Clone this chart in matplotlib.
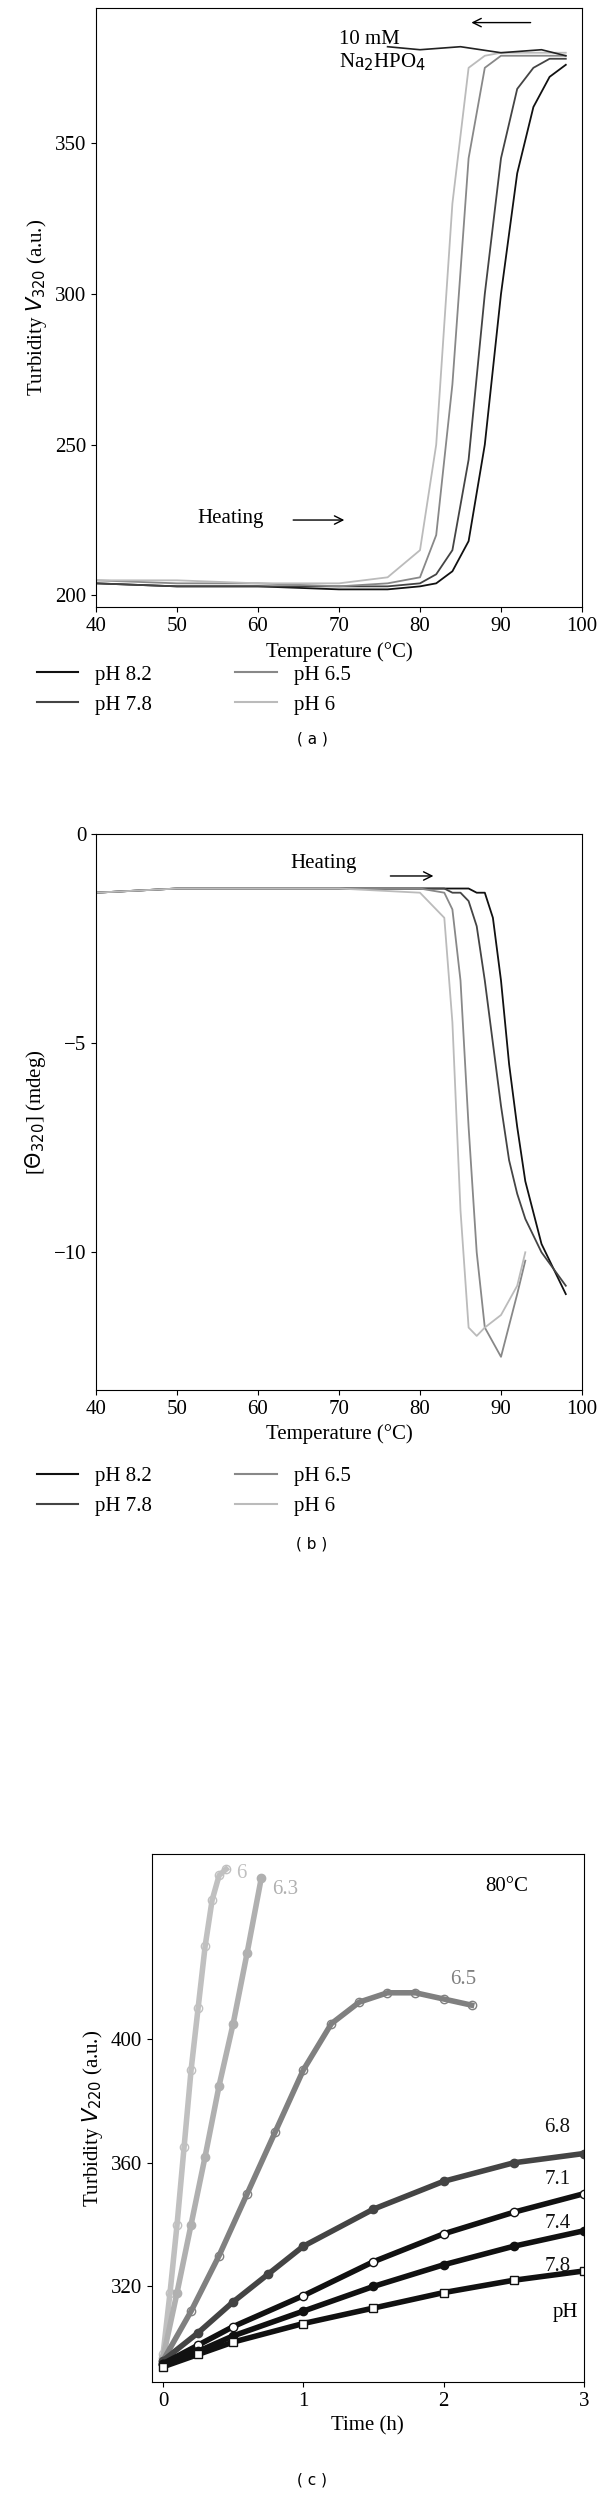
import matplotlib
matplotlib.use("Agg")
import matplotlib.pyplot as plt
import numpy as np
plt.rcParams["font.family"] = "Liberation Serif"
plt.rcParams["font.size"] = 15

# Panel a: heating turbidity curves
a_temp = [40, 50, 60, 70, 76, 80, 82, 84, 86, 88, 90, 92, 94, 96, 98]
a_ph82 = [204, 203, 203, 202, 202, 203, 204, 208, 218, 250, 300, 340, 362, 372, 376]
a_ph78 = [204, 203, 203, 203, 203, 204, 207, 215, 245, 300, 345, 368, 375, 378, 378]
a_ph65 = [205, 204, 204, 203, 204, 206, 220, 270, 345, 375, 379, 379, 379, 379, 379]
a_ph6 = [205, 205, 204, 204, 206, 215, 250, 330, 375, 379, 380, 380, 380, 380, 380]
a_cool_t = [76, 80, 85, 90, 95, 98]
a_cool = [382, 381, 382, 380, 381, 379]

# Panel b: CD signal
b_temp = [40, 50, 60, 70, 80, 83, 84, 85, 86, 87, 88, 89, 90, 91, 92, 93, 95, 98]
b_ph82 = [-1.4, -1.3, -1.3, -1.3, -1.3, -1.3, -1.3, -1.3, -1.3, -1.4, -1.4, -2.0, -3.5, -5.5, -7.0, -8.3, -9.8, -11.0]
b_ph78 = [-1.4, -1.3, -1.3, -1.3, -1.3, -1.3, -1.4, -1.4, -1.6, -2.2, -3.5, -5.0, -6.5, -7.8, -8.6, -9.2, -10.0, -10.8]
b6_t = [40, 50, 60, 70, 80, 83, 84, 85, 86, 87, 88, 90, 92, 93]
b_ph65 = [-1.4, -1.3, -1.3, -1.3, -1.3, -1.4, -1.8, -3.5, -7.0, -10.0, -11.8, -12.5, -11.0, -10.2]
b_ph6 = [-1.4, -1.3, -1.3, -1.3, -1.4, -2.0, -4.5, -9.0, -11.8, -12.0, -11.8, -11.5, -10.8, -10.0]

# Panel c: kinetics at 80 C
c_labels = ["6", "6.3", "6.5", "6.8", "7.1", "7.4", "7.8"]
c_t = {
    "6": [0, 0.05, 0.1, 0.15, 0.2, 0.25, 0.3, 0.35, 0.4, 0.45],
    "6.3": [0, 0.1, 0.2, 0.3, 0.4, 0.5, 0.6, 0.7],
    "6.5": [0, 0.2, 0.4, 0.6, 0.8, 1.0, 1.2, 1.4, 1.6, 1.8, 2.0, 2.2],
    "6.8": [0, 0.25, 0.5, 0.75, 1.0, 1.5, 2.0, 2.5, 3.0],
    "7.1": [0, 0.25, 0.5, 1.0, 1.5, 2.0, 2.5, 3.0],
    "7.4": [0, 0.25, 0.5, 1.0, 1.5, 2.0, 2.5, 3.0],
    "7.8": [0, 0.25, 0.5, 1.0, 1.5, 2.0, 2.5, 3.0],
}
c_v = {
    "6": [298, 318, 340, 365, 390, 410, 430, 445, 453, 455],
    "6.3": [297, 318, 340, 362, 385, 405, 428, 452],
    "6.5": [296, 312, 330, 350, 370, 390, 405, 412, 415, 415, 413, 411],
    "6.8": [296, 305, 315, 324, 333, 345, 354, 360, 363],
    "7.1": [295, 301, 307, 317, 328, 337, 344, 350],
    "7.4": [295, 299, 304, 312, 320, 327, 333, 338],
    "7.8": [294, 298, 302, 308, 313, 318, 322, 325],
}
c_colors = ["#c0c0c0", "#b0b0b0", "#808080", "#444444", "#111111", "#111111", "#111111"]
c_markers = ["o", "o", "o", "o", "o", "o", "s"]
c_fill = ["none", "#b0b0b0", "none", "#444444", "white", "#111111", "white"]
c_label_pos = {"6": (0.52, 452), "6.3": (0.78, 447), "6.5": (2.05, 418), "6.8": (2.72, 370),
               "7.1": (2.72, 353), "7.4": (2.72, 339), "7.8": (2.72, 325)}

fig = plt.figure(figsize=(6, 25.05), dpi=100)
gray4 = ["#111111", "#444444", "#888888", "#bbbbbb"]

ax = fig.add_axes([0.16, 0.7575, 0.81, 0.2395])
for y, c in zip([a_ph82, a_ph78, a_ph65, a_ph6], gray4):
    ax.plot(a_temp, y, color=c, lw=1.3)
ax.plot(a_cool_t, a_cool, color="#222222", lw=1.2)
ax.set_xlim(40, 100); ax.set_ylim(196, 395)
ax.set_yticks([200, 250, 300, 350])
ax.set_xlabel("Temperature (°C)")
ax.set_ylabel("Turbidity $V_{320}$ (a.u.)")
ax.text(52.5, 224, "Heating", fontsize=15)
ax.annotate("", xy=(71, 225), xytext=(64, 225), arrowprops=dict(arrowstyle="->", lw=1))
ax.text(70, 375, "10 mM\nNa$_2$HPO$_4$", fontsize=15)
ax.annotate("", xy=(86, 390), xytext=(94, 390), arrowprops=dict(arrowstyle="->", lw=1))
h = [plt.Line2D([], [], color=c, lw=1.5) for c in gray4]
fig.legend(h, ["pH 8.2", "pH 7.8", "pH 6.5", "pH 6"], ncol=2,
           loc="upper left", bbox_to_anchor=(0.03, 0.742), frameon=False, fontsize=15,
           columnspacing=4)
fig.text(0.52, 0.703, "( a )", ha="center", fontsize=11, family="DejaVu Sans")

bx = fig.add_axes([0.16, 0.445, 0.81, 0.222])
bx.plot(b_temp, b_ph82, color=gray4[0], lw=1.3)
bx.plot(b_temp, b_ph78, color=gray4[1], lw=1.3)
bx.plot(b6_t, b_ph65, color=gray4[2], lw=1.3)
bx.plot(b6_t, b_ph6, color=gray4[3], lw=1.3)
bx.set_xlim(40, 100); bx.set_ylim(-13.3, 0)
bx.set_yticks([0, -5, -10])
bx.set_xlabel("Temperature (°C)")
bx.set_ylabel("[$\\Theta_{320}$] (mdeg)")
bx.text(64, -0.8, "Heating", fontsize=15)
bx.annotate("", xy=(82, -1.0), xytext=(76, -1.0), arrowprops=dict(arrowstyle="->", lw=1))
fig.legend(h, ["pH 8.2", "pH 7.8", "pH 6.5", "pH 6"], ncol=2,
           loc="upper left", bbox_to_anchor=(0.03, 0.422), frameon=False, fontsize=15,
           columnspacing=4)
fig.text(0.52, 0.382, "( b )", ha="center", fontsize=11, family="DejaVu Sans")

cx = fig.add_axes([0.253, 0.049, 0.72, 0.211])
for lab, col, m, fc in zip(c_labels, c_colors, c_markers, c_fill):
    cx.plot(c_t[lab], c_v[lab], color=col, lw=4, marker=m, ms=6, mfc=fc, mec=col)
    px, py = c_label_pos[lab]
    cx.text(px, py, lab, color=col if lab in ("6", "6.3", "6.5") else "#111111", fontsize=15)
cx.text(2.78, 310, "pH", fontsize=15)
cx.text(2.3, 448, "80°C", fontsize=15)
cx.set_xlim(-0.08, 3.0); cx.set_ylim(289, 460)
cx.set_xticks([0, 1, 2, 3]); cx.set_yticks([320, 360, 400])
cx.set_xlabel("Time (h)")
cx.set_ylabel("Turbidity $V_{220}$ (a.u.)")
fig.text(0.52, 0.008, "( c )", ha="center", fontsize=11, family="DejaVu Sans")

fig.savefig("out.png", dpi=100)
